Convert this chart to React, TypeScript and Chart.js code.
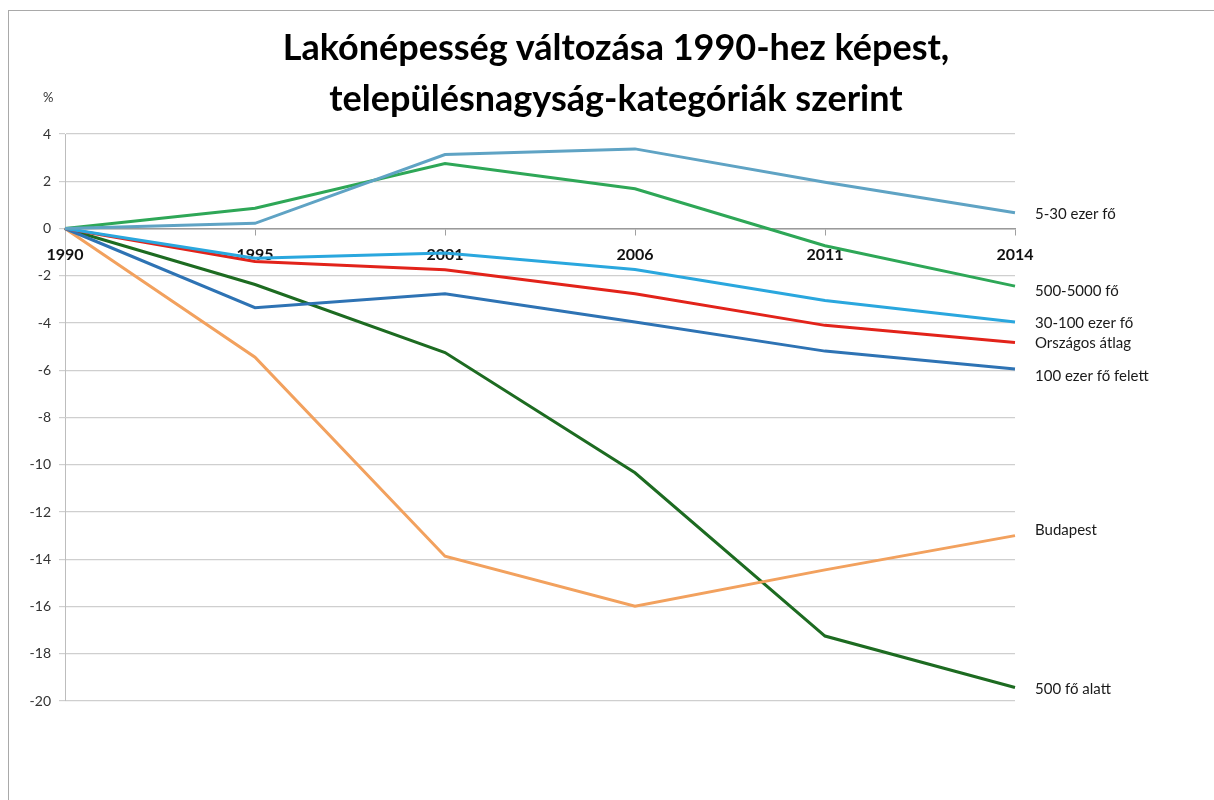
import React, { useEffect, useRef } from "react";
import { Chart, registerables } from "chart.js";

Chart.register(...registerables);

const years = ["1990", "1995", "2001", "2006", "2011", "2014"];
const s5to30 = [0, 0.22, 3.13, 3.37, 1.96, 0.67];
const s500to5000 = [0, 0.86, 2.75, 1.68, -0.73, -2.44];
const s30to100 = [0, -1.26, -1.04, -1.74, -3.05, -3.96];
const orszagos = [0, -1.4, -1.75, -2.76, -4.1, -4.83];
const s100felett = [0, -3.35, -2.76, -3.96, -5.19, -5.95];
const budapest = [0, -5.45, -13.87, -15.99, -14.45, -13.0];
const s500alatt = [0, -2.37, -5.25, -10.34, -17.25, -19.43];

const seriesNames = [
  "5-30 ezer fő",
  "500-5000 fő",
  "30-100 ezer fő",
  "Országos átlag",
  "100 ezer fő felett",
  "Budapest",
  "500 fő alatt",
];
const seriesValues = [s5to30, s500to5000, s30to100, orszagos, s100felett, budapest, s500alatt];
const seriesColors = ["#5fa3c4", "#2ea757", "#2aa7de", "#e2231a", "#2e73b4", "#f2a15e", "#1d6b21"];
const labelNudge = [1, 5, 1, 1, 7, -5, 2];

const yMin = -20;
const yMax = 4;
const yStep = 2;
const titleLines = ["Lakónépesség változása 1990-hez képest,", "településnagyság-kategóriák szerint"];
const unitLabel = "%";

const endLabels = {
  id: "endLabels",
  afterDatasetsDraw(chart: any) {
    const ctx = chart.ctx;
    ctx.save();
    ctx.font = "15px Lato";
    ctx.fillStyle = "#1a1a1a";
    ctx.textAlign = "left";
    ctx.textBaseline = "middle";
    chart.data.datasets.forEach((ds: any, i: number) => {
      const meta = chart.getDatasetMeta(i);
      const pt = meta.data[meta.data.length - 1];
      ctx.fillText(ds.label, chart.chartArea.right + 20, pt.y + labelNudge[i]);
    });
    ctx.restore();
  },
};

export default function App() {
  const ref = useRef<HTMLCanvasElement>(null);
  useEffect(() => {
    const chart = new Chart(ref.current as HTMLCanvasElement, {
      type: "line",
      data: {
        labels: years,
        datasets: seriesNames.map((name, i) => ({
          label: name,
          data: seriesValues[i],
          borderColor: seriesColors[i],
          backgroundColor: seriesColors[i],
          borderWidth: 3,
          pointRadius: 0,
          tension: 0,
          fill: false,
        })),
      },
      options: {
        responsive: false,
        animation: false,
        devicePixelRatio: 1,
        layout: { padding: { left: 0, right: 199, top: 134, bottom: 99 } },
        plugins: { legend: { display: false }, title: { display: false }, tooltip: { enabled: false } },
        scales: {
          x: {
            type: "category",
            position: { y: 0 } as any,
            offset: false,
            grid: { display: true, drawOnChartArea: false, drawTicks: true, tickLength: 6, color: "#a0a0a0" },
            border: { display: true, color: "#9a9a9a", width: 1.5 },
            ticks: {
              padding: 11,
              maxRotation: 0,
              color: "#111",
              font: { family: "Lato", size: 16, weight: "bold" },
            },
          },
          y: {
            min: yMin,
            max: yMax,
            afterFit(scale: any) {
              scale.width = 65;
            },
            grid: { color: "#cfcfcf", lineWidth: 1.2, tickLength: 6 },
            border: { display: true, color: "#bdbdbd" },
            ticks: {
              stepSize: yStep,
              padding: 8,
              color: "#333",
              font: { family: "Lato", size: 14 },
            },
          },
        },
      },
      plugins: [endLabels],
    });
    return () => chart.destroy();
  }, []);

  return (
    <div style={{ position: "absolute", left: 0, top: 0, width: 1214, height: 800, background: "#fff", overflow: "hidden" }}>
      <div
        style={{
          position: "absolute",
          left: 8,
          top: 10,
          width: 1220,
          height: 800,
          borderLeft: "1.5px solid #a9a9a9",
          borderTop: "1.5px solid #a9a9a9",
        }}
      />
      <canvas ref={ref} width={1214} height={800} style={{ position: "absolute", left: 0, top: 0, width: 1214, height: 800 }} />
      <div
        style={{
          position: "absolute",
          left: 0,
          top: 21,
          width: 1232,
          textAlign: "center",
          fontFamily: "Lato",
          fontWeight: 700,
          fontSize: 36,
          lineHeight: "51px",
          color: "#000",
        }}
      >
        {titleLines.map((t) => (
          <div key={t}>{t}</div>
        ))}
      </div>
      <div style={{ position: "absolute", left: 43, top: 89, fontFamily: "Lato", fontSize: 13, color: "#333" }}>{unitLabel}</div>
    </div>
  );
}
